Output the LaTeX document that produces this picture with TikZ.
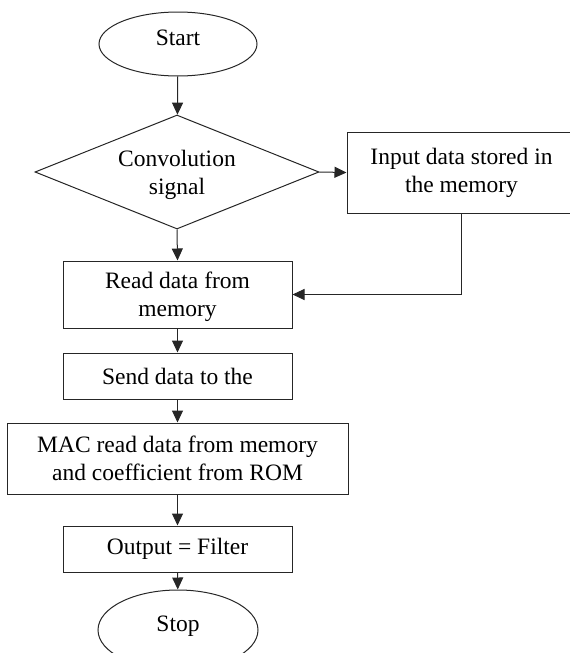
\documentclass[tikz,border=0pt]{standalone}
\usepackage{fontspec}
\setmainfont{Liberation Serif}
\usetikzlibrary{shapes.geometric,arrows.meta}
\begin{document}
\begin{tikzpicture}[x=1pt,y=-1pt,
  every node/.style={font=\fontsize{23.5}{28}\selectfont, align=center, inner sep=0pt, draw=black!85, line width=1pt},
  box/.style={rectangle, minimum width=229pt},
  term/.style={ellipse, text height=16pt, text depth=14pt},
  dec/.style={diamond, aspect=2.5, minimum width=284pt, minimum height=114pt, text depth=0pt},
  arr/.style={draw=black!85, line width=1pt, -{Triangle[length=12pt,width=11pt]}}
]
\useasboundingbox (0,0) rectangle (570,653);
\node[term, minimum width=158pt, minimum height=64pt] (start) at (178,44) {Start};
\node[dec] (conv) at (177,172) {Convolution\\signal};
\node[box, minimum height=81pt] (input) at (461.5,172.5) {Input data stored in\\the memory};
\node[box, minimum height=67pt, text depth=0pt] (read) at (177.5,294.5) {Read data from\\memory};
\node[box, minimum height=46pt] (send) at (177.5,376) {Send data to the};
\node[box, minimum width=341pt, minimum height=71pt] (mac) at (177.5,458.5) {MAC read data from memory\\and coefficient from ROM};
\node[box, minimum height=46pt] (out) at (177.5,549) {Output = Filter};
\node[term, minimum width=160pt, minimum height=80pt] (stop) at (178,630) {Stop};

\draw[arr] (start) -- (conv);
\draw[arr] (conv.east) -- (input.west);
\draw[arr] (conv.south) -- (read.north);
\draw[arr] (input.south) |- (read.east);
\draw[arr] (read) -- (send);
\draw[arr] (send) -- (mac);
\draw[arr] (mac) -- (out);
\draw[arr] (out) -- (stop);
\end{tikzpicture}
\end{document}
